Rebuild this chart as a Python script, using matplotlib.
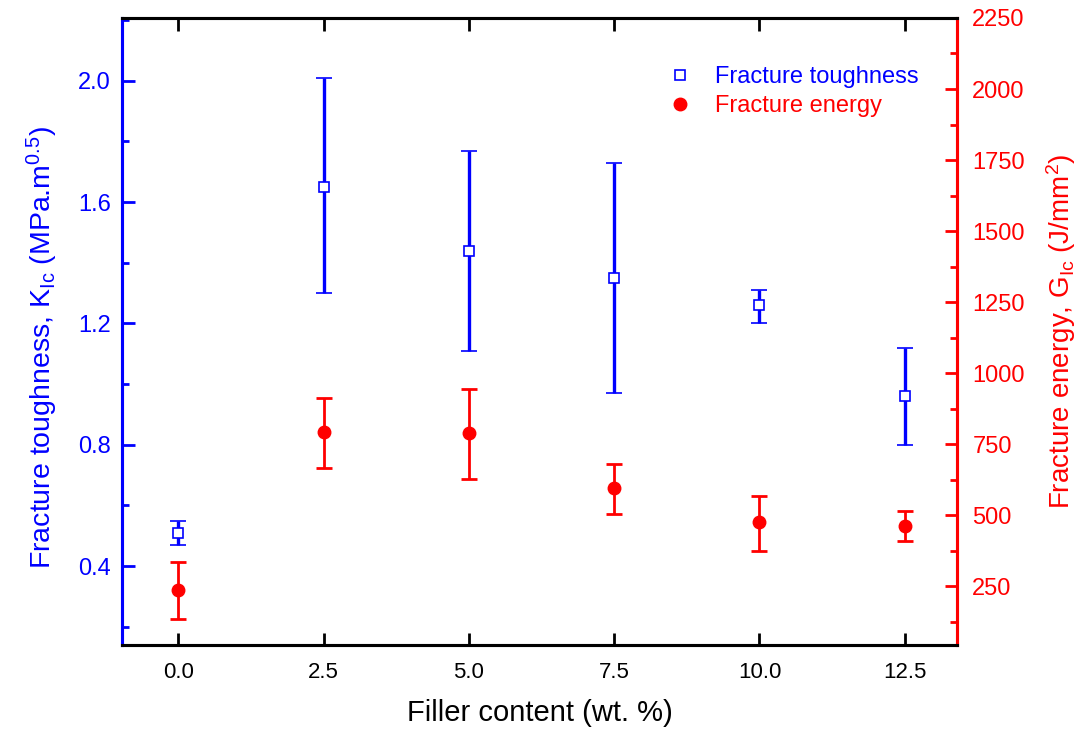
import numpy as np
import matplotlib
matplotlib.use('Agg')
from matplotlib import pyplot as plt
from matplotlib.ticker import MultipleLocator, FormatStrFormatter
from matplotlib.lines import Line2D

plt.rcParams['font.family'] = ['Liberation Sans', 'DejaVu Sans']
plt.rcParams['mathtext.fontset'] = 'custom'
plt.rcParams['mathtext.rm'] = 'Liberation Sans'
plt.rcParams['mathtext.it'] = 'Liberation Sans'

filler = [0.0, 2.5, 5.0, 7.5, 10.0, 12.5]

# fracture toughness K_Ic (MPa.m^0.5)
k_mean = [0.51, 1.65, 1.44, 1.35, 1.26, 0.96]
k_low = [0.47, 1.30, 1.11, 0.97, 1.20, 0.80]
k_high = [0.55, 2.01, 1.77, 1.73, 1.31, 1.12]

# fracture energy G_Ic (J/mm^2)
g_mean = [236, 791, 788, 595, 475, 461]
g_low = [134, 665, 626, 503, 373, 408]
g_high = [334, 911, 943, 679, 566, 514]

blue = '#0000ff'
red = '#ff0000'

fig = plt.figure(figsize=(10.83, 7.34), dpi=100)
ax1 = fig.add_axes([0.1127, 0.1213, 0.771, 0.8542])
ax2 = ax1.twinx()

k_mean = np.array(k_mean)
g_mean = np.array(g_mean)
k_err = [k_mean - np.array(k_low), np.array(k_high) - k_mean]
g_err = [g_mean - np.array(g_low), np.array(g_high) - g_mean]

ax1.errorbar(filler, k_mean, yerr=k_err, fmt='s', color=blue, mfc='white',
             mec=blue, ms=7, mew=1.2, elinewidth=2.4, capsize=6, capthick=2.4,
             zorder=3)
ax2.errorbar(filler, g_mean, yerr=g_err, fmt='o', color=red, ms=9,
             elinewidth=2, capsize=6, capthick=2)

ax1.set_xlim(-0.97, 13.4)
ax1.set_ylim(0.14, 2.207)
ax2.set_ylim(43, 2250)

ax1.xaxis.set_major_locator(MultipleLocator(2.5))
ax1.xaxis.set_major_formatter(FormatStrFormatter('%.1f'))
ax1.yaxis.set_major_locator(MultipleLocator(0.4))
ax1.yaxis.set_minor_locator(MultipleLocator(0.2))
ax1.yaxis.set_major_formatter(FormatStrFormatter('%.1f'))
ax2.yaxis.set_major_locator(MultipleLocator(250))
ax2.yaxis.set_minor_locator(MultipleLocator(125))

ax1.tick_params(axis='x', which='major', direction='in', length=9, width=2,
                top=True, labelsize=16, pad=12, colors='black')
ax1.tick_params(axis='y', which='major', direction='in', length=9, width=2,
                labelsize=17, colors=blue, pad=8)
ax1.tick_params(axis='y', which='minor', direction='in', length=5, width=2,
                colors=blue)
ax2.tick_params(axis='y', which='major', direction='in', length=9, width=2,
                labelsize=17, colors=red, pad=11)
ax2.tick_params(axis='y', which='minor', direction='in', length=5, width=2,
                colors=red)

for ax in (ax1, ax2):
    for s in ax.spines.values():
        s.set_linewidth(2.2)
    ax.spines['left'].set_color(blue)
    ax.spines['right'].set_color(red)
    ax.spines['top'].set_color('black')
    ax.spines['bottom'].set_color('black')

ax1.set_xlabel('Filler content (wt. %)', fontsize=21, labelpad=12)
ax1.set_ylabel(r'Fracture toughness, K$_{\mathrm{Ic}}$ (MPa.m$^{0.5}$)',
               fontsize=20.5, color=blue)
ax1.yaxis.set_label_coords(-0.074, 0.474)
ax2.set_ylabel(r'Fracture energy, G$_{\mathrm{Ic}}$ (J/mm$^{2}$)',
               fontsize=20, color=red, labelpad=14)

handles = [
    Line2D([], [], ls='none', marker='s', ms=7, mfc='white', mec=blue, mew=1.2),
    Line2D([], [], ls='none', marker='o', ms=9, color=red),
]
ax2.legend(handles, ['Fracture toughness', 'Fracture energy'],
           loc='upper right', bbox_to_anchor=(0.98, 0.957),
           frameon=False, fontsize=17, handletextpad=0.75, handlelength=1.5,
           labelspacing=0.3, labelcolor=[blue, red])

fig.savefig('out.png', dpi=100)
